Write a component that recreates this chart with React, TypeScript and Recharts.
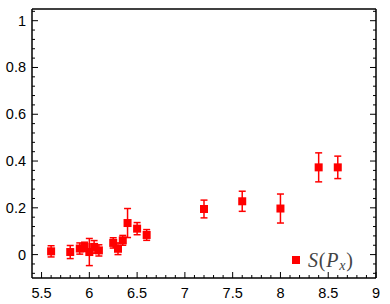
import React from "react";
import { ScatterChart, Scatter, XAxis, YAxis, ErrorBar } from "recharts";

const xValues = [5.6, 5.8, 5.9, 5.95, 6.0, 6.05, 6.1, 6.25, 6.3, 6.35, 6.4, 6.5, 6.6, 7.2, 7.6, 8.0, 8.4, 8.6];
const yValues = [0.014, 0.011, 0.026, 0.033, 0.011, 0.033, 0.018, 0.05, 0.025, 0.061, 0.135, 0.111, 0.084, 0.195, 0.228, 0.197, 0.373, 0.373];
const yErrors = [0.024, 0.028, 0.024, 0.02, 0.058, 0.027, 0.024, 0.022, 0.025, 0.021, 0.062, 0.026, 0.023, 0.038, 0.043, 0.062, 0.062, 0.048];

const xMajorTicks = [5.5, 6, 6.5, 7, 7.5, 8, 8.5, 9];
const yMajorTicks = [0, 0.2, 0.4, 0.6, 0.8, 1];
const xDomain: [number, number] = [5.4, 9];
const yDomain: [number, number] = [-0.1, 1.05];

const xAllTicks = Array.from({ length: 36 }, (_, i) => Math.round((5.5 + i * 0.1) * 10) / 10);
const yAllTicks = Array.from({ length: 29 }, (_, i) => Math.round((-0.08 + i * 0.04) * 100) / 100);

const data = xValues.map((x, i) => ({ x, y: yValues[i], err: yErrors[i] }));

const RED = "#ff0000";
const FONT = "'Liberation Sans', Arial, Helvetica, sans-serif";
const SERIF = "'Liberation Serif', 'DejaVu Serif', 'Times New Roman', serif";

const isMajor = (v: number, majors: number[]) => majors.some((m) => Math.abs(m - v) < 1e-6);

const makeTick = (side: "bottom" | "top" | "left" | "right") => (props: any) => {
  const { x, y, payload } = props;
  const v = payload.value as number;
  const majors = side === "bottom" || side === "top" ? xMajorTicks : yMajorTicks;
  const major = isMajor(v, majors);
  const len = major ? 6 : 3;
  let line;
  if (side === "bottom") line = <line x1={x} y1={y} x2={x} y2={y - len} stroke="#000" strokeWidth={1} />;
  else if (side === "top") line = <line x1={x} y1={y} x2={x} y2={y + len} stroke="#000" strokeWidth={1} />;
  else if (side === "left") line = <line x1={x} y1={y} x2={x + len} y2={y} stroke="#000" strokeWidth={1} />;
  else line = <line x1={x} y1={y} x2={x - len} y2={y} stroke="#000" strokeWidth={1} />;
  let label = null;
  if (major && side === "bottom") {
    label = (
      <text x={x} y={y + 19.5} textAnchor="middle" fontSize={14.5} style={{ fontFamily: FONT }} fill="#000">
        {String(v)}
      </text>
    );
  } else if (major && side === "left") {
    label = (
      <text x={x - 6} y={y + 5} textAnchor="end" fontSize={14.5} style={{ fontFamily: FONT }} fill="#000">
        {String(v)}
      </text>
    );
  }
  return (
    <g>
      {line}
      {label}
    </g>
  );
};

const squareShape = (props: any) => {
  const { cx, cy } = props;
  return <rect x={cx - 4} y={cy - 4} width={8} height={8} fill={RED} />;
};

const axisLine = { stroke: "#000", strokeWidth: 1.5 };

export default function App() {
  return (
    <div style={{ position: "absolute", left: 0, top: 0, width: 390, height: 304, background: "#fff" }}>
      <ScatterChart width={390} height={304} margin={{ top: 0, right: 0, bottom: 0, left: 0 }}>
        <XAxis
          xAxisId="b"
          dataKey="x"
          type="number"
          orientation="bottom"
          domain={xDomain}
          allowDataOverflow
          ticks={xAllTicks}
          interval={0}
          height={26}
          tickLine={false}
          tickSize={0}
          tickMargin={0}
          axisLine={axisLine}
          tick={makeTick("bottom")}
        />
        <XAxis
          xAxisId="t"
          type="number"
          orientation="top"
          domain={xDomain}
          allowDataOverflow
          ticks={xAllTicks}
          interval={0}
          height={9}
          tickLine={false}
          tickSize={0}
          tickMargin={0}
          axisLine={axisLine}
          tick={makeTick("top")}
        />
        <YAxis
          yAxisId="l"
          dataKey="y"
          type="number"
          orientation="left"
          domain={yDomain}
          allowDataOverflow
          ticks={yAllTicks}
          interval={0}
          width={32}
          tickLine={false}
          tickSize={0}
          tickMargin={0}
          axisLine={axisLine}
          tick={makeTick("left")}
        />
        <YAxis
          yAxisId="r"
          type="number"
          orientation="right"
          domain={yDomain}
          allowDataOverflow
          ticks={yAllTicks}
          interval={0}
          width={14}
          tickLine={false}
          tickSize={0}
          tickMargin={0}
          axisLine={axisLine}
          tick={makeTick("right")}
        />
        <Scatter
          data={data}
          xAxisId="b"
          yAxisId="l"
          fill={RED}
          shape={squareShape}
          isAnimationActive={false}
        >
          <ErrorBar dataKey="err" direction="y" width={3.5} stroke={RED} strokeWidth={1.5} isAnimationActive={false} />
        </Scatter>
      </ScatterChart>
      <svg width={390} height={304} style={{ position: "absolute", left: 0, top: 0, pointerEvents: "none" }}>
        <rect x={292} y={256} width={8} height={8} fill={RED} />
        <text x={308} y={267} fontSize={20} fill="#444" letterSpacing={0.8} style={{ fontFamily: SERIF }}>
          <tspan fontStyle="italic">S</tspan>
          <tspan>(</tspan>
          <tspan fontStyle="italic">P</tspan>
          <tspan fontStyle="italic" fontSize={14} dy={3}>x</tspan>
          <tspan dy={-3}>)</tspan>
        </text>
      </svg>
    </div>
  );
}
